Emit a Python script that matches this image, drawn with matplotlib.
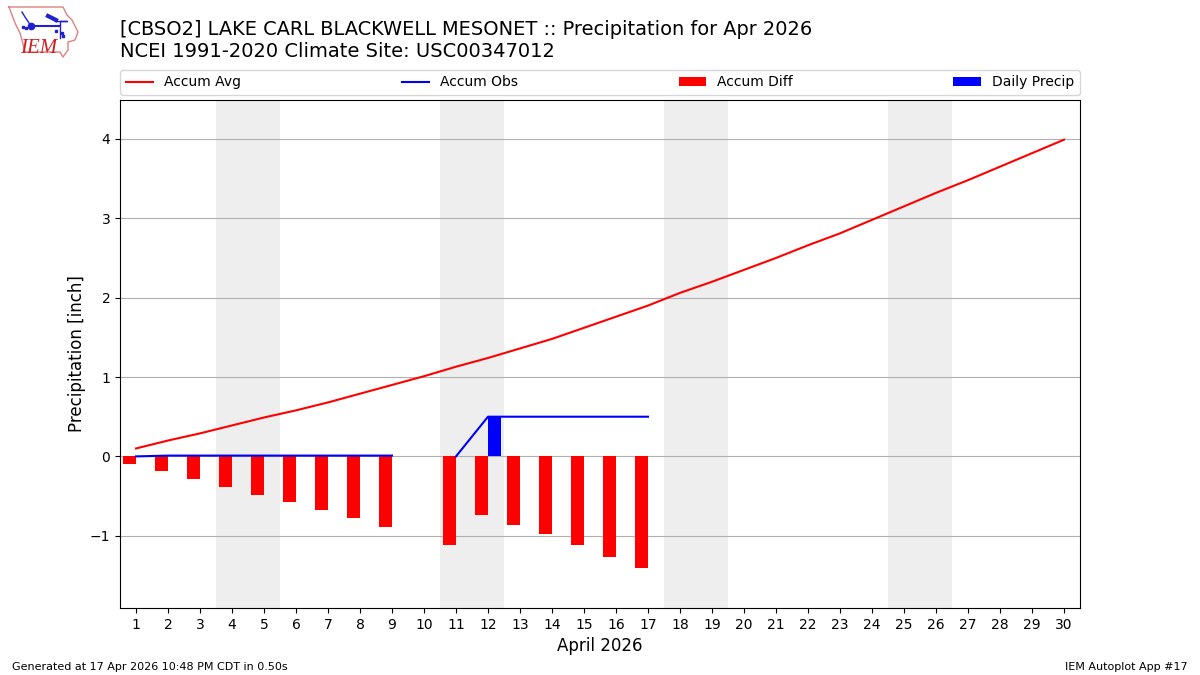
import numpy as np
import matplotlib
matplotlib.use("Agg")
import matplotlib.pyplot as plt

days = list(range(1, 31))
accum_avg = [0.10, 0.20, 0.29, 0.39, 0.49, 0.58, 0.68, 0.79, 0.90, 1.01,
             1.13, 1.24, 1.36, 1.48, 1.62, 1.76, 1.90, 2.06, 2.20, 2.35,
             2.50, 2.66, 2.81, 2.98, 3.15, 3.32, 3.48, 3.65, 3.82, 3.99]
accum_obs = [0.00, 0.01, 0.01, 0.01, 0.01, 0.01, 0.01, 0.01, 0.01, np.nan,
             0.00, 0.50, 0.50, 0.50, 0.50, 0.50, 0.50]
accum_diff = [-0.10, -0.19, -0.29, -0.39, -0.49, -0.58, -0.68, -0.78, -0.89, np.nan,
              -1.12, -0.74, -0.87, -0.98, -1.12, -1.27, -1.41]
daily_precip = [0.00, 0.01, 0.00, 0.00, 0.00, 0.00, 0.00, 0.00, 0.00, 0.00,
                0.00, 0.50, 0.00, 0.00, 0.00, 0.00, 0.00]
weekend_starts = [3.5, 10.5, 17.5, 24.5]

# logo outline and glyphs, in logo pixels
iowa_x = [9, 63, 67, 72, 78, 75, 68, 68, 63, 60, 25, 22, 20, 15, 9]
iowa_y = [7, 7, 15, 20, 32, 40, 42, 50, 57, 52, 52, 40, 33, 23, 7]
wire_x = [31, 60]
wire_y = [26, 26]
ankle_x = [22, 25, 31]
ankle_y = [12, 17, 26]
wing_x = [48, 56]
wing_y = [16, 20]
post_x = [55, 67, 60, 60]
post_y = [21, 21, 21, 38]
dots_x = [23, 26, 56, 62, 63]
dots_y = [27, 28, 31, 33, 36]


def draw_logo(fig):
    ax = fig.add_axes([0, 1 - 60 / 675, 90 / 1200, 60 / 675])
    ax.set_xlim(0, 90)
    ax.set_ylim(60, 0)
    ax.axis("off")
    ax.plot(iowa_x, iowa_y, color="#e08080", lw=1)
    ax.plot(wire_x, wire_y, color="#2020d0", lw=1.5)
    ax.plot([31], [26], "o", color="#2020d0", ms=4.5)
    ax.plot(ankle_x, ankle_y, color="#2020d0", lw=1)
    ax.plot(wing_x, wing_y, color="#2020d0", lw=3)
    ax.plot(post_x, post_y, color="#2020d0", lw=1)
    ax.plot(dots_x, dots_y, "s", color="#2020d0", ms=1.5)
    ax.text(20, 53, "IEM", family="Liberation Serif", style="italic",
            color="#d02020", fontsize=15, va="baseline")


def main():
    fig = plt.figure(figsize=(12, 6.75), dpi=100)
    ax = fig.add_axes([120 / 1200, 1 - 608 / 675, 960 / 1200, 508 / 675])

    for start in weekend_starts:
        ax.axvspan(start, start + 2, color="#eeeeee", lw=0, zorder=0)

    ax.plot(days, accum_avg, color="r", label="Accum Avg", zorder=3)
    ax.plot(days[:17], accum_obs, color="b", label="Accum Obs", zorder=3)
    ax.bar(days[:17], accum_diff, width=-0.4, align="edge", color="r",
           label="Accum Diff", zorder=2)
    ax.bar(days[:17], daily_precip, width=0.4, align="edge", color="b",
           label="Daily Precip", zorder=2)

    ax.set_xlim(0.5, 30.5)
    ax.set_ylim(-1.91, 4.49)
    ax.set_xticks(days)
    ax.set_yticks([-1, 0, 1, 2, 3, 4])
    ax.grid(axis="y", color="#b0b0b0", zorder=1)
    ax.set_axisbelow(True)
    ax.set_xlabel("April 2026", fontsize=12)
    ax.set_ylabel("Precipitation [inch]", fontsize=12, labelpad=2.6)
    ax.legend(ncol=4, mode="expand", loc="lower left",
              bbox_to_anchor=(0, 1.01, 1, 0.05), borderaxespad=0, fontsize=10)

    fig.text(120 / 1200, 1 - 35 / 675, "[CBSO2] LAKE CARL BLACKWELL MESONET :: Precipitation for Apr 2026",
             fontsize=13.98, va="baseline")
    fig.text(120 / 1200, 1 - 57 / 675, "NCEI 1991-2020 Climate Site: USC00347012",
             fontsize=14, va="baseline")
    fig.text(12 / 1200, 1 - 670 / 675, "Generated at 17 Apr 2026 10:48 PM CDT in 0.50s",
             fontsize=8, va="baseline")
    fig.text(1188 / 1200, 1 - 670 / 675, "IEM Autoplot App #17",
             fontsize=8, ha="right", va="baseline")

    draw_logo(fig)
    fig.savefig("out.png", dpi=100)


if __name__ == "__main__":
    main()
